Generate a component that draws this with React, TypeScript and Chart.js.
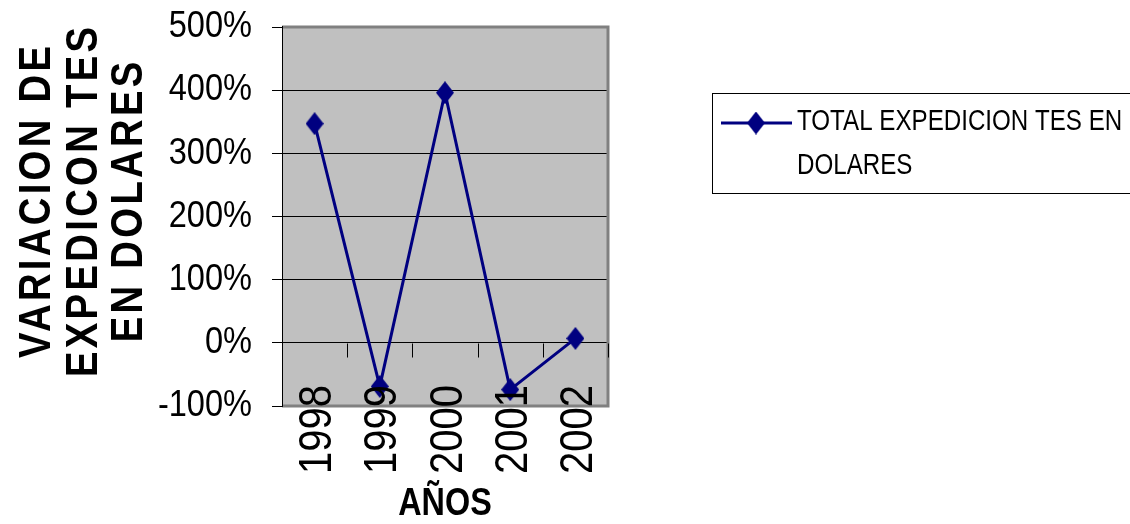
import { useEffect, useRef } from 'react';
import { Chart, registerables } from 'chart.js';

Chart.register(...registerables);

// Annual variation of TES issuance in dollars (percent)
const years = ['1998', '1999', '2000', '2001', '2002'];
const variation = [347, -69, 396, -74, 7];
const yMin = -100;
const yMax = 500;
const yStep = 100;
const seriesLines = ['TOTAL EXPEDICION TES EN', 'DOLARES'];
const yTitleLines = ['VARIACION DE', 'EXPEDICON TES', 'EN DOLARES'];
const xTitle = 'AÑOS';

const NAVY = '#000080';
const PLOT_BG = '#C0C0C0';
const FONT = "'Liberation Sans', Arial, sans-serif";

function makeDiamond(w: number, h: number, color: string): HTMLCanvasElement {
  const c = document.createElement('canvas');
  c.width = w;
  c.height = h;
  const g = c.getContext('2d')!;
  g.fillStyle = color;
  g.beginPath();
  g.moveTo(w / 2, 0);
  g.lineTo(w, h / 2);
  g.lineTo(w / 2, h);
  g.lineTo(0, h / 2);
  g.closePath();
  g.fill();
  return c;
}

// Condensed text: the regular face squeezed along the writing direction.
function condensed(
  ctx: CanvasRenderingContext2D,
  text: string,
  x: number,
  y: number,
  squeeze: number,
  align: CanvasTextAlign,
  rotation = 0,
  spacing = 0,
) {
  ctx.save();
  ctx.translate(x, y);
  if (rotation) ctx.rotate(rotation);
  ctx.scale(squeeze, 1);
  ctx.textAlign = align;
  if (spacing) {
    (ctx as any).letterSpacing = `${spacing}px`;
    // letterSpacing also pads after the last glyph; re-centre for that
    const shift = align === 'center' ? spacing / 2 : 0;
    ctx.fillText(text, shift, 0);
  } else {
    ctx.fillText(text, 0, 0);
  }
  ctx.restore();
}

const plotFrame = {
  id: 'plotFrame',
  beforeDraw(chart: any) {
    const { ctx, chartArea: a } = chart;
    ctx.save();
    ctx.fillStyle = PLOT_BG;
    ctx.fillRect(a.left, a.top, a.right - a.left, a.bottom - a.top);
    ctx.restore();
  },
  beforeDatasetsDraw(chart: any) {
    const { ctx, chartArea: a, scales } = chart;
    ctx.save();
    // grey frame on top, right and bottom
    ctx.strokeStyle = '#808080';
    ctx.lineWidth = 3;
    ctx.beginPath();
    ctx.moveTo(a.left, a.top);
    ctx.lineTo(a.right, a.top);
    ctx.lineTo(a.right, a.bottom);
    ctx.lineTo(a.left, a.bottom);
    ctx.stroke();
    // left axis line
    ctx.strokeStyle = '#000';
    ctx.lineWidth = 1;
    ctx.beginPath();
    ctx.moveTo(a.left + 0.5, a.top - 1);
    ctx.lineTo(a.left + 0.5, a.bottom + 1);
    ctx.stroke();
    // category tick marks on the zero line
    const x = scales.x;
    const y0 = Math.round(scales.y.getPixelForValue(0)) + 0.5;
    ctx.beginPath();
    for (let i = 1; i <= years.length; i++) {
      const px = Math.round(x.getPixelForValue(i - 0.5)) + 0.5;
      ctx.moveTo(px, y0);
      ctx.lineTo(px, y0 + 14);
    }
    ctx.stroke();
    ctx.restore();
  },
  afterDraw(chart: any) {
    const { ctx, chartArea: a, scales } = chart;
    ctx.save();
    ctx.fillStyle = '#000';

    // value axis labels
    ctx.font = `37px ${FONT}`;
    ctx.textBaseline = 'middle';
    for (const t of scales.y.ticks) {
      condensed(ctx, `${t.value}%`, a.left - 30, scales.y.getPixelForValue(t.value), 0.88, 'right');
    }

    // category labels, written upwards from below the plot
    ctx.font = `46px ${FONT}`;
    ctx.textBaseline = 'middle';
    scales.x.getLabels().forEach((lab: string, i: number) => {
      condensed(ctx, lab, scales.x.getPixelForValue(i) + 4, a.bottom - 21, 0.87, 'right', -Math.PI / 2);
    });

    // vertical axis title, three lines
    ctx.font = `bold 44px ${FONT}`;
    ctx.textBaseline = 'alphabetic';
    const baselines = [50, 97, 142];
    yTitleLines.forEach((line, i) => {
      condensed(ctx, line, baselines[i], 202, 0.87, 'center', -Math.PI / 2, 3.8);
    });

    // horizontal axis title
    ctx.font = `bold 39px ${FONT}`;
    condensed(ctx, xTitle, (a.left + a.right) / 2, 515, 0.83, 'center');

    // legend
    ctx.strokeStyle = '#000';
    ctx.lineWidth = 1;
    ctx.strokeRect(712.5, 93.5, 440, 100);
    ctx.strokeStyle = NAVY;
    ctx.lineWidth = 3;
    ctx.beginPath();
    ctx.moveTo(721, 123);
    ctx.lineTo(792, 123);
    ctx.stroke();
    ctx.drawImage(chart.data.datasets[0].pointStyle, 756 - 9, 123 - 11.5);
    ctx.fillStyle = '#000';
    ctx.font = `30px ${FONT}`;
    condensed(ctx, seriesLines[0], 797, 130, 0.805, 'left');
    condensed(ctx, seriesLines[1], 797, 174, 0.805, 'left');
    ctx.restore();
  },
};

export default function App() {
  const ref = useRef<HTMLCanvasElement>(null);

  useEffect(() => {
    const diamond = makeDiamond(18, 23, NAVY);
    const chart = new Chart(ref.current!, {
      type: 'line',
      data: {
        labels: years,
        datasets: [
          {
            label: seriesLines.join(' '),
            data: variation,
            borderColor: NAVY,
            backgroundColor: NAVY,
            borderWidth: 3,
            pointStyle: diamond as any,
            pointRadius: 10,
            tension: 0,
          },
        ],
      },
      options: {
        responsive: false,
        maintainAspectRatio: false,
        animation: false,
        devicePixelRatio: 1,
        layout: { padding: { left: 0, right: 522, top: 27, bottom: 0 } },
        plugins: { legend: { display: false }, tooltip: { enabled: false } },
        scales: {
          x: {
            type: 'category',
            offset: true,
            grid: { display: false },
            border: { display: false },
            ticks: { display: false, autoSkip: false },
            afterFit: (s: any) => {
              s.height = 118;
              s.paddingLeft = 0;
              s.paddingRight = 0;
            },
          },
          y: {
            min: yMin,
            max: yMax,
            grid: { color: '#000', lineWidth: 1, tickLength: 10, drawTicks: true },
            border: { display: false },
            ticks: { stepSize: yStep, display: false },
            afterFit: (s: any) => {
              s.width = 282;
              s.paddingTop = 0;
              s.paddingBottom = 0;
            },
          },
        },
      },
      plugins: [plotFrame],
    });
    return () => chart.destroy();
  }, []);

  return (
    <div style={{ position: 'fixed', left: 0, top: 0, width: 1130, height: 524, background: '#fff' }}>
      <canvas ref={ref} width={1130} height={524} style={{ display: 'block' }} />
    </div>
  );
}
